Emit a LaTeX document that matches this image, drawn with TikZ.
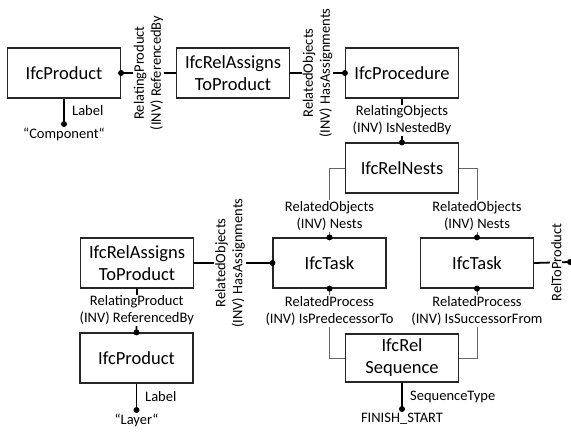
\documentclass[tikz,border=0pt]{standalone}
\usepackage{fontspec}
\setmainfont{Carlito}
\begin{document}
\begin{tikzpicture}[x=1pt,y=-1pt,
  box/.style={draw=black!85, line width=1.2pt, minimum width=113pt, minimum height=50pt,
    align=center, font=\fontsize{18.5}{22}\selectfont, inner sep=0pt},
  conn/.style={line width=1.8pt},
  gl/.style={draw=black!60, line width=0.9pt},
  lab/.style={font=\fontsize{14.5}{17}\selectfont, align=center, inner sep=1pt, fill=white},
  txt/.style={font=\fontsize{14.5}{17}\selectfont, align=center, inner sep=0pt},
  dot/.style={circle, fill=black, inner sep=0pt, minimum size=6pt}]
\useasboundingbox (0,0) rectangle (571,432);

% boxes
\node[box] (P1) at (64,73) {IfcProduct};
\node[box] (RA1) at (233,73) {IfcRelAssigns\\ToProduct};
\node[box] (Proc) at (402,73) {IfcProcedure};
\node[box] (Nests) at (402,168) {IfcRelNests};
\node[box] (T1) at (329.5,263) {IfcTask};
\node[box] (T2) at (477,263) {IfcTask};
\node[box, minimum height=48pt] (Seq) at (402,358) {IfcRel\\Sequence};
\node[box] (RA2) at (137,263) {IfcRelAssigns\\ToProduct};
\node[box] (P2) at (136.5,358) {IfcProduct};

% thick connectors with rotated labels
\draw[conn] (P1.east) -- node[lab, rotate=90] (l1) {RelatingProduct\\(INV) ReferencedBy} (RA1.west);
\node[dot] (d1) at (P1.east) {};
\draw[conn] (RA1.east) -- node[lab, rotate=90] (l2) {RelatedObjects\\(INV) HasAssignments} (Proc.west);
\node[dot] (d2) at (Proc.west) {};
\draw[conn] (RA2.east) -- node[lab, rotate=90, pos=0.46] (l3) {RelatedObjects\\(INV) HasAssignments} (T1.west);
\node[dot] (d3) at (T1.west) {};
\coordinate (far) at (570,262);
\draw[conn] (T2.east) -- node[lab, rotate=90, pos=0.62] (l4) {RelToProduct} (far);
\node[dot] (d4) at (far) {};

% vertical connectors
\draw[conn] (Proc.south) -- node[lab] (l5) {RelatingObjects\\(INV) IsNestedBy} (Nests.north);
\node[dot] (d5) at (Nests.north) {};
\draw[conn] (RA2.south) -- node[lab] (l6) {RelatingProduct\\(INV) ReferencedBy} (P2.north);
\node[dot] (d6) at (P2.north) {};

% gray connectors
\draw[gl] (Nests.west) -| (T1.north);
\node[lab] (l7) at (329.5,216) {RelatedObjects\\(INV) Nests};
\node[dot] (d7) at (T1.north) {};
\draw[gl] (Nests.east) -| (T2.north);
\node[lab] (l8) at (477,216) {RelatedObjects\\(INV) Nests};
\node[dot] (d8) at (T2.north) {};
\draw[gl] (Seq.west) -| (T1.south);
\node[lab] (l9) at (329.5,311) {RelatedProcess\\(INV) IsPredecessorTo};
\node[dot] (d9) at (T1.south) {};
\draw[gl] (Seq.east) -| (T2.south);
\node[lab] (l10) at (477,311) {RelatedProcess\\(INV) IsSuccessorFrom};
\node[dot] (d10) at (T2.south) {};

% attribute values
\coordinate (e1) at (64,124);
\draw[conn] (P1.south) -- (e1);
\node[dot] (d11) at (e1) {};
\node[txt, anchor=west] (t1) at (72,111) {Label};
\node[txt, anchor=north] (t2) at (64,128) {“Component“};

\coordinate (e2) at (136.5,410);
\draw[conn] (P2.south) -- (e2);
\node[dot] (d12) at (e2) {};
\node[txt, anchor=west] (t3) at (145,397) {Label};
\node[txt, anchor=north] (t4) at (136.5,414) {“Layer“};

\coordinate (e3) at (402,409);
\draw[conn] (Seq.south) -- (e3);
\node[dot] (d13) at (e3) {};
\node[txt, anchor=west] (t5) at (410,397) {SequenceType};
\node[txt, anchor=north] (t6) at (402,413) {FINISH\_START};
\end{tikzpicture}
\end{document}
